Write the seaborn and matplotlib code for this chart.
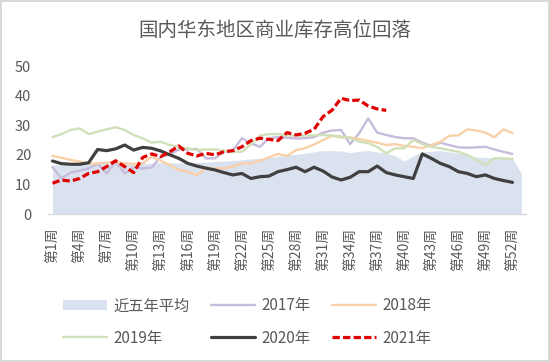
import numpy as np
import pandas as pd
import seaborn as sns
import matplotlib.pyplot as plt

# weekly commercial inventory, east China
weeks = [f'第{i}周' for i in range(1, 54)]

avg_5y = [16.6, 16.5, 16.5, 16.7, 16.8, 17.0, 17.2, 17.3, 17.3, 17.2,
          17.2, 17.2, 17.3, 17.3, 17.2, 17.2, 17.4, 17.5, 17.7, 17.9,
          18.1, 18.3, 18.6, 18.8, 19.0, 19.5, 19.8, 20.2, 20.5, 21.0,
          21.4, 21.4, 21.3, 20.7, 21.2, 21.4, 21.0, 20.5, 19.6, 17.9,
          19.6, 21.0, 21.2, 21.4, 21.0, 20.5, 20.0, 19.2, 19.1, 19.0,
          18.9, 18.8, 13.5]

y2017 = [15.8, 12.0, 14.0, 14.6, 15.4, 17.0, 13.7, 17.7, 13.7, 15.8,
         15.4, 15.7, 19.4, 20.0, 21.8, 21.8, 22.0, 18.8, 18.8, 21.0,
         21.5, 25.6, 23.9, 22.7, 25.6, 26.0, 25.8, 25.5, 25.6, 26.0,
         27.5, 28.2, 28.4, 23.6, 27.3, 32.3, 27.5, 26.7, 26.0, 25.6,
         25.6, 24.1, 23.0, 24.1, 23.3, 22.5, 22.4, 22.5, 22.7, 21.8,
         21.0, 20.3]

y2018 = [19.6, 19.0, 18.3, 17.7, 17.0, 17.1, 17.3, 17.7, 17.1, 16.9,
         17.1, 19.4, 18.0, 16.5, 15.0, 14.3, 13.2, 15.4, 15.4, 15.5,
         16.0, 17.1, 17.1, 18.0, 19.1, 20.3, 19.6, 21.6, 22.2, 23.5,
         25.0, 26.4, 25.9, 25.9, 25.3, 24.7, 24.1, 23.3, 23.6, 23.0,
         22.7, 22.2, 23.3, 24.4, 26.4, 26.6, 28.6, 28.2, 27.5, 25.9,
         28.6, 27.3]

y2019 = [26.0, 27.0, 28.4, 28.9, 27.0, 27.8, 28.6, 29.3, 28.4, 26.7,
         25.6, 24.1, 24.4, 23.3, 22.7, 22.2, 21.6, 21.8, 21.8, 21.4,
         21.0, 21.0, 23.5, 26.5, 27.0, 27.0, 26.6, 26.5, 26.5, 26.6,
         26.7, 26.5, 26.2, 25.6, 24.5, 23.9, 22.7, 20.5, 22.2, 22.2,
         25.0, 23.6, 22.7, 22.2, 21.6, 21.0, 19.9, 18.2, 16.6, 18.8,
         18.8, 18.6]

y2020 = [17.9, 17.0, 16.8, 16.8, 17.3, 21.8, 21.4, 22.0, 23.3, 21.6,
         22.5, 22.2, 21.3, 20.0, 18.8, 17.1, 16.2, 15.5, 14.9, 14.0,
         13.2, 13.7, 12.0, 12.6, 12.8, 14.3, 15.0, 15.8, 14.3, 15.8,
         14.5, 12.5, 11.5, 12.4, 14.3, 14.3, 16.2, 14.0, 13.2, 12.6,
         12.0, 20.3, 18.8, 17.1, 16.0, 14.3, 13.7, 12.6, 13.2, 12.0,
         11.3, 10.7]

y2021 = [10.4, 11.5, 11.1, 12.0, 13.7, 14.3, 16.0, 18.0, 16.0, 14.0,
         19.1, 20.3, 19.4, 21.0, 23.0, 20.5, 19.6, 20.5, 20.0, 21.0,
         21.4, 22.7, 24.8, 25.6, 25.2, 24.8, 27.5, 26.7, 27.3, 28.6,
         32.9, 35.1, 39.1, 38.3, 38.5, 36.5, 35.5, 35.0]

series = [
    ('2017年', y2017, '#c6bcdb', 1.7, '-'),
    ('2018年', y2018, '#f9d0a8', 1.7, '-'),
    ('2019年', y2019, '#d0e0b8', 1.7, '-'),
    ('2020年', y2020, '#404040', 2.3, '-'),
    ('2021年', y2021, '#e00000', 2.3, (0, (2.3, 1.0))),
]

sns.set_theme(style='white')
plt.rcParams['font.family'] = ['Noto Sans CJK SC', 'DejaVu Sans']
grey = '#595959'

fig = plt.figure(figsize=(5.5, 3.62), dpi=100)
fig.patch.set_edgecolor('#d9d9d9')
fig.patch.set_linewidth(1.5)
ax = fig.add_axes([48 / 550, 1 - 214 / 362, 478 / 550, 148 / 362])

pos = np.arange(len(weeks))
area = ax.fill_between(pos, avg_5y, color='#d9e2ee', lw=0, label='近五年平均')

handles = {'近五年平均': area}
for name, vals, color, lw, ls in series:
    df = pd.DataFrame({'pos': pos[:len(vals)], 'value': vals})
    sns.lineplot(data=df, x='pos', y='value', color=color, lw=lw, ls=ls, ax=ax, label=name)
    handles[name] = ax.lines[-1]

ax.set_xlim(-0.5, len(weeks) - 0.5)
ax.set_ylim(0, 50)
ax.set_yticks(range(0, 51, 10))
ax.set_xticks(pos[:52:3])
ax.set_xticklabels([weeks[i] for i in pos[:52:3]], rotation=90)
ax.tick_params(axis='y', length=0, pad=12, labelsize=10.5, labelcolor=grey)
ax.tick_params(axis='x', length=0, pad=10, labelsize=10, labelcolor=grey)
ax.set_xlabel('')
ax.set_ylabel('')
for side in ['left', 'right', 'top']:
    ax.spines[side].set_visible(False)
ax.spines['bottom'].set_color('#d9d9d9')
ax.spines['bottom'].set_linewidth(1)

fig.text(0.5, 1 - 30 / 362, '国内华东地区商业库存高位回落', ha='center', va='center',
         fontsize=14, color=grey)

order = ['近五年平均', '2019年', '2017年', '2020年', '2018年', '2021年']
ax.legend([handles[k] for k in order], order, ncol=3, loc='center left',
          bbox_to_anchor=(63 / 550, 1 - 322 / 362), bbox_transform=fig.transFigure,
          frameon=False, fontsize=11, labelcolor=grey, handlelength=2.9,
          handletextpad=0.4, columnspacing=1.4, labelspacing=1.0,
          borderpad=0, borderaxespad=0)

fig.savefig('out.png', dpi=100)
